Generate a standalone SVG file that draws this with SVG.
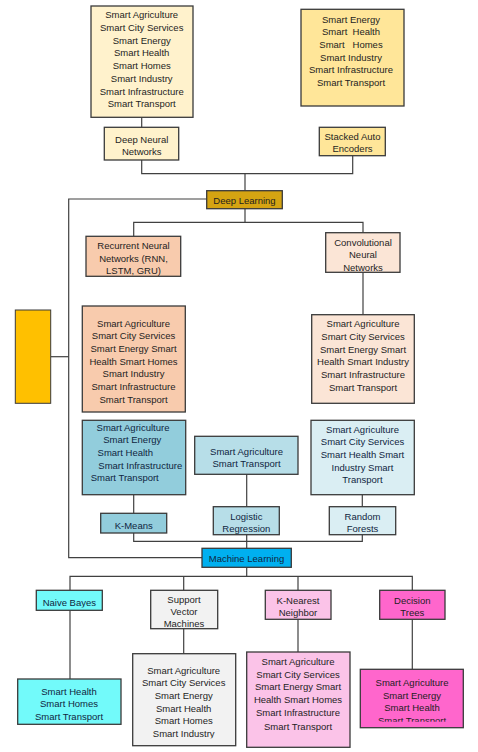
<svg xmlns="http://www.w3.org/2000/svg" width="478" height="752" viewBox="0 0 478 752">
<style>
text{font-family:"Liberation Sans",Arial,sans-serif;font-size:9.5px;fill:#1e1e1e;text-anchor:middle;white-space:pre}
.b{stroke:#3a3a3a;stroke-width:1.3}
.c{fill:none;stroke:#404040;stroke-width:1.2}
.dk{fill:#10263f}
</style>
<defs>
<clipPath id="clNB"><rect x="30" y="590" width="80" height="17.5"/></clipPath>
<clipPath id="clSVM"><rect x="130" y="650" width="110" height="88.3"/></clipPath>
<clipPath id="clDT"><rect x="355" y="665" width="115" height="56.8"/></clipPath>
<clipPath id="clSVMt"><rect x="150" y="588" width="70" height="40"/></clipPath>
</defs>
<rect width="478" height="752" fill="#ffffff"/>
<g id="connectors">
<polyline class="c" points="141.7,117.3 141.7,127.3"/>
<polyline class="c" points="141.7,160 141.7,173.7 352.7,173.7 352.7,155.7"/>
<polyline class="c" points="245,173.7 245,190.7"/>
<polyline class="c" points="206.7,199 68.7,199 68.7,557.7 202,557.7"/>
<polyline class="c" points="50.7,356.7 68.7,356.7"/>
<polyline class="c" points="245,208.7 245,222.3"/>
<polyline class="c" points="133.7,236.3 133.7,222.3 363,222.3 363,232.7"/>
<polyline class="c" points="363,272.3 363,314.7"/>
<polyline class="c" points="133.7,494.7 133.7,513.3"/>
<polyline class="c" points="246.7,474.3 246.7,506.7"/>
<polyline class="c" points="362.3,494.7 362.3,506.7"/>
<polyline class="c" points="133.7,533 133.7,541.3 362.3,541.3 362.3,534.7"/>
<polyline class="c" points="246.7,534.7 246.7,548.3"/>
<polyline class="c" points="246.7,567.3 246.7,576.3"/>
<polyline class="c" points="70,590.3 70,576.3 412.3,576.3 412.3,590.3"/>
<polyline class="c" points="183.7,576.3 183.7,590.3"/>
<polyline class="c" points="298,576.3 298,590.3"/>
<polyline class="c" points="70,610.3 70,679"/>
<polyline class="c" points="183.7,628.7 183.7,653.7"/>
<polyline class="c" points="298,619.3 298,652"/>
<polyline class="c" points="412.3,619.3 412.3,669.3"/>
</g>
<g id="dl-apps">
<rect class="b" x="91" y="6" width="102" height="111.3" fill="#FFF2CC"/>
<text x="141.7" y="18">Smart Agriculture</text>
<text x="141.7" y="30.8">Smart City Services</text>
<text x="141.7" y="43.5">Smart Energy</text>
<text x="141.7" y="56.3">Smart Health</text>
<text x="141.7" y="69">Smart Homes</text>
<text x="141.7" y="81.8">Smart Industry</text>
<text x="141.7" y="94.6">Smart Infrastructure</text>
<text x="141.7" y="107.4">Smart Transport</text>
</g>
<g id="sae-apps">
<rect class="b" x="301" y="9.3" width="103" height="96.7" fill="#FFE699"/>
<text x="351" y="22.5">Smart Energy</text>
<text x="351" y="35.2">Smart  Health</text>
<text x="351" y="47.8">Smart   Homes</text>
<text x="351" y="60.5">Smart Industry</text>
<text x="351" y="73.2">Smart Infrastructure</text>
<text x="351" y="85.8">Smart Transport</text>
</g>
<g id="dnn">
<rect class="b" x="104.3" y="127.3" width="74.4" height="32.7" fill="#FFF2CC"/>
<text x="141.7" y="142.5">Deep Neural</text>
<text x="141.7" y="154.5">Networks</text>
</g>
<g id="sae">
<rect class="b" x="319.3" y="127.3" width="66" height="28.4" fill="#FFE699"/>
<text x="352.5" y="140">Stacked Auto</text>
<text x="352.5" y="152.3">Encoders</text>
</g>
<g id="deep-learning">
<rect class="b" x="206.7" y="190.7" width="75.6" height="18" fill="#D5A412"/>
<text x="244.5" y="203.5">Deep Learning</text>
</g>
<g id="side">
<rect x="15.3" y="310" width="35.4" height="93.3" fill="#FFC000" stroke="#3a3a3a" stroke-width="1"/>
</g>
<g id="rnn">
<rect class="b" x="86" y="236.3" width="94.7" height="40" fill="#F8CBAD"/>
<text x="133.5" y="249">Recurrent Neural</text>
<text x="133.5" y="261.5">Networks (RNN,</text>
<text x="133.5" y="274">LSTM, GRU)</text>
</g>
<g id="cnn">
<rect class="b" x="325.7" y="232.7" width="74.3" height="39.6" fill="#FBE5D6"/>
<text x="363" y="245.5">Convolutional</text>
<text x="363" y="258">Neural</text>
<text x="363" y="270.5">Networks</text>
</g>
<g id="rnn-apps">
<rect class="b" x="82.3" y="306" width="103" height="106" fill="#F8CBAD"/>
<text x="133.5" y="326.5">Smart Agriculture</text>
<text x="133.5" y="339.2">Smart City Services</text>
<text x="133.5" y="351.9">Smart Energy Smart</text>
<text x="133.5" y="364.6">Health Smart Homes</text>
<text x="133.5" y="377.3">Smart Industry</text>
<text x="133.5" y="390">Smart Infrastructure</text>
<text x="133.5" y="402.7">Smart Transport</text>
</g>
<g id="cnn-apps">
<rect class="b" x="311.7" y="314.7" width="102.6" height="88.6" fill="#FBE5D6"/>
<text x="363" y="327.2">Smart Agriculture</text>
<text x="363" y="339.9">Smart City Services</text>
<text x="363" y="352.6">Smart Energy Smart</text>
<text x="363" y="365.3">Health Smart Industry</text>
<text x="363" y="378">Smart Infrastructure</text>
<text x="363" y="390.7">Smart Transport</text>
</g>
<g id="kmeans-apps">
<rect class="b" x="82.3" y="420.3" width="103.4" height="74.4" fill="#92CDDC"/>
<text class="dk" x="133" y="430.5">Smart Agriculture</text>
<text class="dk" x="132.3" y="443.2">Smart Energy</text>
<text class="dk" x="125.3" y="455.9">Smart Health</text>
<text class="dk" x="140.3" y="468.6">Smart Infrastructure</text>
<text class="dk" x="124.7" y="481.3">Smart Transport</text>
</g>
<g id="lr-apps">
<rect class="b" x="194.7" y="436.3" width="103.3" height="38" fill="#B7DEE8"/>
<text class="dk" x="246.5" y="454.7">Smart Agriculture</text>
<text class="dk" x="246.5" y="466.8">Smart Transport</text>
</g>
<g id="rf-apps">
<rect class="b" x="311" y="420.3" width="103.3" height="74.4" fill="#DAEEF3"/>
<text class="dk" x="362.5" y="432.5">Smart Agriculture</text>
<text class="dk" x="362.5" y="445">Smart City Services</text>
<text class="dk" x="362.5" y="457.7">Smart Health Smart</text>
<text class="dk" x="362.5" y="470.5">Industry Smart</text>
<text class="dk" x="362.5" y="483.3">Transport</text>
</g>
<g id="kmeans">
<rect class="b" x="100.7" y="513.3" width="66" height="19.7" fill="#92CDDC"/>
<text class="dk" x="133.7" y="529">K-Means</text>
</g>
<g id="lr">
<rect class="b" x="213.3" y="506.7" width="66" height="28" fill="#B7DEE8"/>
<text class="dk" x="246.3" y="520">Logistic</text>
<text class="dk" x="246.3" y="531.8">Regression</text>
</g>
<g id="rf">
<rect class="b" x="329.3" y="506.7" width="66.4" height="28" fill="#DAEEF3"/>
<text class="dk" x="362.5" y="520">Random</text>
<text class="dk" x="362.5" y="531.8">Forests</text>
</g>
<g id="machine-learning">
<rect class="b" x="202" y="548.3" width="89.3" height="19" fill="#00B0F0"/>
<text class="dk" x="246.5" y="561.5">Machine Learning</text>
</g>
<g id="nb">
<rect class="b" x="36.3" y="590.3" width="66" height="20" fill="#72FAFA"/>
<text class="dk" x="69.3" y="606" clip-path="url(#clNB)">Naive Bayes</text>
</g>
<g id="svm">
<rect class="b" x="150.7" y="590.3" width="67" height="38.4" fill="#F2F2F2"/>
<text x="184" y="602.7">Support</text>
<text x="184" y="615">Vector</text>
<text x="184" y="627.4" clip-path="url(#clSVMt)">Machines</text>
</g>
<g id="knn">
<rect class="b" x="265.3" y="590.3" width="65.7" height="29" fill="#FBC3E8"/>
<text x="298" y="604">K-Nearest</text>
<text x="298" y="616.3">Neighbor</text>
</g>
<g id="dt">
<rect class="b" x="379.7" y="590.3" width="65.3" height="29" fill="#FF66CC"/>
<text x="412.3" y="604">Decision</text>
<text x="412.3" y="616.3">Trees</text>
</g>
<g id="nb-apps">
<rect class="b" x="17.7" y="679" width="103.3" height="45.3" fill="#72FAFA"/>
<text class="dk" x="69" y="694.5">Smart Health</text>
<text class="dk" x="69" y="707">Smart Homes</text>
<text class="dk" x="69" y="719.5">Smart Transport</text>
</g>
<g id="svm-apps">
<rect class="b" x="132.7" y="653.7" width="103" height="92" fill="#F2F2F2"/>
<text x="183.7" y="673.7">Smart Agriculture</text>
<text x="183.7" y="686.3">Smart City Services</text>
<text x="183.7" y="699">Smart Energy</text>
<text x="183.7" y="711.7">Smart Health</text>
<text x="183.7" y="724.3">Smart Homes</text>
<text x="183.7" y="737" clip-path="url(#clSVM)">Smart Industry</text>
</g>
<g id="knn-apps">
<rect class="b" x="246.7" y="652" width="103.3" height="95.3" fill="#FBC3E8"/>
<text x="298" y="665">Smart Agriculture</text>
<text x="298" y="677.7">Smart City Services</text>
<text x="298" y="690.4">Smart Energy Smart</text>
<text x="298" y="703">Health Smart Homes</text>
<text x="298" y="715.7">Smart Infrastructure</text>
<text x="298" y="729.5">Smart Transport</text>
</g>
<g id="dt-apps">
<rect class="b" x="360.3" y="669.3" width="103" height="58.4" fill="#FF66CC"/>
<text x="412" y="686">Smart Agriculture</text>
<text x="412" y="698.7">Smart Energy</text>
<text x="412" y="711.4">Smart Health</text>
<text x="412" y="724.2" clip-path="url(#clDT)">Smart Transport</text>
</g>
</svg>
